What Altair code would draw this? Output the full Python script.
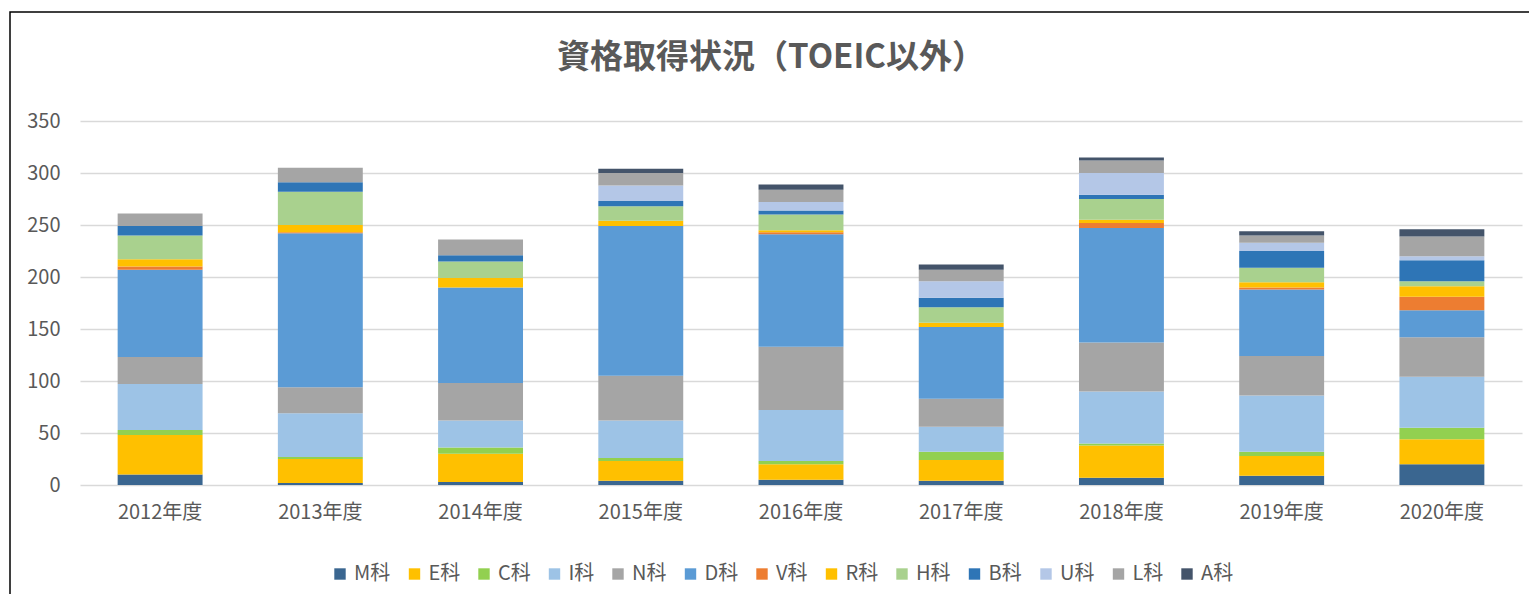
import altair as alt
import pandas as pd

title_text = ["資格取得状況（TOEIC以外）"]
years = ["2012年度", "2013年度", "2014年度", "2015年度", "2016年度",
         "2017年度", "2018年度", "2019年度", "2020年度"]
series = ["M科", "E科", "C科", "I科", "N科", "D科", "V科", "R科", "H科", "B科", "U科", "L科", "A科"]
colors = ["#3A6690", "#FFC000", "#92D050", "#9DC3E6", "#A5A5A5", "#5B9BD5", "#ED7D31",
          "#FFC000", "#A9D18E", "#2E75B6", "#B4C7E7", "#A5A5A5", "#44546A"]

M = [10, 2, 3, 4, 5, 4, 7, 9, 20]
E = [38, 23, 27, 19, 15, 20, 31, 19, 24]
C = [5, 2, 6, 3, 3, 8, 2, 4, 11]
I = [44, 42, 26, 36, 49, 24, 50, 54, 49]
N = [26, 25, 36, 43, 61, 27, 47, 38, 38]
D = [84, 148, 92, 144, 108, 69, 110, 64, 26]
V = [3, 1, 0, 0, 2, 0, 5, 2, 13]
R = [7, 7, 9, 5, 2, 4, 3, 5, 10]
H = [23, 32, 16, 14, 15, 15, 20, 14, 5]
B = [9, 9, 6, 5, 4, 9, 4, 16, 20]
U = [0, 0, 0, 15, 8, 16, 21, 8, 4]
L = [12, 14, 15, 12, 12, 11, 12, 7, 19]
A = [0, 0, 0, 4, 5, 5, 3, 4, 7]

y_ticks = [0, 50, 100, 150, 200, 250, 300, 350]

all_vals = [M, E, C, I, N, D, V, R, H, B, U, L, A]
rows = []
for si, (name, vals) in enumerate(zip(series, all_vals)):
    for yr, v in zip(years, vals):
        rows.append({"year": yr, "series": name, "value": v, "idx": si})
df = pd.DataFrame(rows)

FONT = "Noto Sans CJK JP"
GREY = "#595959"

W, H_ = 1442, 364

bars = alt.Chart(df).mark_bar().encode(
    x=alt.X("year:N", sort=years,
            scale=alt.Scale(paddingInner=0.47, paddingOuter=0.235),
            axis=alt.Axis(title=None, labelAngle=0, labelFontSize=20, labelColor=GREY,
                          labelFont=FONT, labelPadding=17, domain=False, ticks=False,
                          grid=False)),
    y=alt.Y("value:Q", stack="zero",
            scale=alt.Scale(domain=[0, 350], nice=False),
            axis=alt.Axis(title=None, values=y_ticks, labelFontSize=20, labelColor=GREY,
                          labelFont=FONT, labelPadding=20, domain=False, ticks=False,
                          grid=True, gridColor="#D9D9D9", gridWidth=1.5)),
    color=alt.Color("series:N", sort=series,
                    scale=alt.Scale(domain=series, range=colors),
                    legend=alt.Legend(title=None, orient="none", direction="horizontal",
                                      legendX=250, legendY=443, columns=13,
                                      symbolType="square", symbolSize=130,
                                      symbolStrokeWidth=0, labelFontSize=20,
                                      labelColor=GREY, labelFont=FONT,
                                      columnPadding=13.5, labelOffset=4)),
    order=alt.Order("idx:Q", sort="ascending"),
)

frame = alt.Chart(pd.DataFrame({"f": [0]})).mark_rect(
    fill=None, stroke="#000000", strokeWidth=1.5, clip=False
).encode(
    x=alt.value(-70), x2=alt.value(1600),
    y=alt.value(-109), y2=alt.value(700),
)

title = alt.Chart(pd.DataFrame({"t": title_text})).mark_text(
    font=FONT, fontSize=33, fontWeight="bold", color=GREY,
    align="center", baseline="middle"
).encode(
    text="t:N", x=alt.value(691), y=alt.value(-63),
)

chart = alt.layer(bars, frame, title).properties(
    width=W, height=H_,
    autosize=alt.AutoSizeParams(type="none"),
    padding={"left": 72, "top": 113, "right": 7, "bottom": 109},
).configure_view(stroke=None)

chart.save("out.html", embed_options={"renderer": "svg", "actions": False})
